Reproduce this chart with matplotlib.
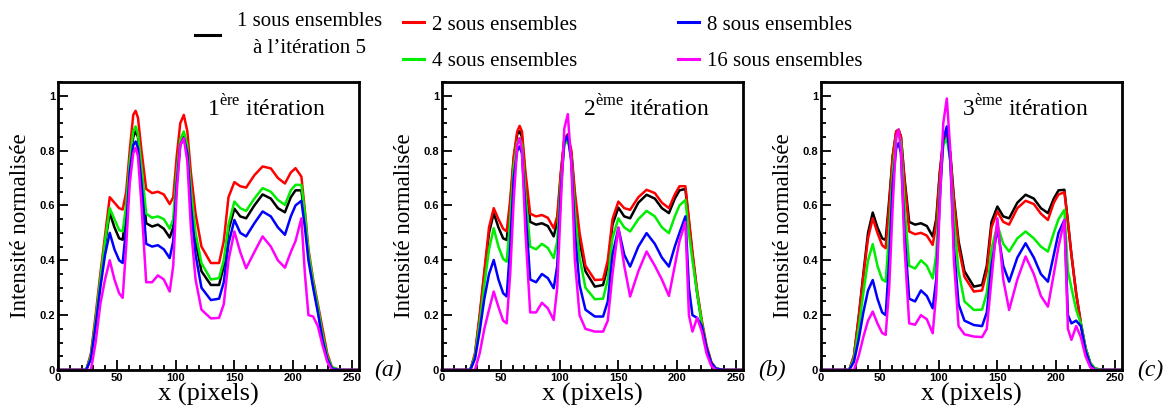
import matplotlib
matplotlib.use('Agg')
import matplotlib.pyplot as plt
from matplotlib.ticker import MultipleLocator

plt.rcParams['font.family'] = ['Liberation Serif', 'DejaVu Serif']
plt.rcParams['mathtext.fontset'] = 'custom'
plt.rcParams['mathtext.rm'] = 'Liberation Serif'

# pixel positions where the profiles were read (same for every curve)
x_px = [0, 24, 28, 32, 36, 40, 44, 48, 52, 55,
        58, 61, 64, 66, 68, 71, 75, 80, 85, 90,
        95, 98, 101, 104, 107, 110, 113, 117, 122, 130,
        137, 141, 145, 150, 155, 160, 167, 174, 181, 187,
        193, 198, 202, 207, 210, 213, 217, 221, 225, 229,
        233, 240, 256]

# 1st iteration
it1_s1 = [0, 0, 0.05, 0.18, 0.32, 0.46, 0.573, 0.52, 0.48, 0.475,
          0.58, 0.75, 0.85, 0.87, 0.85, 0.72, 0.535, 0.523, 0.53, 0.515,
          0.483, 0.52, 0.70, 0.83, 0.85, 0.80, 0.64, 0.47, 0.36, 0.31,
          0.31, 0.38, 0.51, 0.588, 0.56, 0.553, 0.60, 0.64, 0.625, 0.59,
          0.575, 0.63, 0.655, 0.655, 0.55, 0.42, 0.31, 0.22, 0.12, 0.04,
          0.005, 0, 0]
it1_s2 = [0, 0, 0.06, 0.20, 0.35, 0.49, 0.63, 0.61, 0.59, 0.585,
          0.65, 0.80, 0.93, 0.945, 0.92, 0.80, 0.66, 0.645, 0.65, 0.64,
          0.605, 0.63, 0.78, 0.90, 0.93, 0.87, 0.72, 0.57, 0.45, 0.39,
          0.39, 0.47, 0.63, 0.685, 0.67, 0.665, 0.71, 0.742, 0.735, 0.70,
          0.68, 0.72, 0.736, 0.705, 0.58, 0.44, 0.33, 0.24, 0.15, 0.06,
          0.01, 0, 0]
it1_s4 = [0, 0, 0.05, 0.18, 0.33, 0.47, 0.59, 0.55, 0.51, 0.505,
          0.60, 0.76, 0.87, 0.888, 0.86, 0.74, 0.57, 0.555, 0.56, 0.55,
          0.515, 0.55, 0.72, 0.84, 0.87, 0.82, 0.66, 0.50, 0.39, 0.33,
          0.335, 0.40, 0.53, 0.614, 0.59, 0.58, 0.625, 0.663, 0.65, 0.62,
          0.602, 0.655, 0.675, 0.675, 0.57, 0.43, 0.32, 0.23, 0.13, 0.05,
          0.01, 0, 0]
it1_s8 = [0, 0, 0.04, 0.16, 0.30, 0.42, 0.50, 0.44, 0.40, 0.39,
          0.52, 0.72, 0.82, 0.833, 0.81, 0.68, 0.46, 0.45, 0.455, 0.44,
          0.408, 0.47, 0.68, 0.82, 0.845, 0.79, 0.60, 0.42, 0.30, 0.255,
          0.26, 0.32, 0.46, 0.547, 0.50, 0.487, 0.535, 0.578, 0.56, 0.52,
          0.493, 0.56, 0.60, 0.617, 0.52, 0.40, 0.30, 0.21, 0.11, 0.04,
          0.005, 0, 0]
it1_s16 = [0, 0, 0, 0.10, 0.24, 0.33, 0.40, 0.33, 0.28, 0.263,
           0.45, 0.68, 0.79, 0.81, 0.78, 0.60, 0.32, 0.32, 0.345, 0.33,
           0.286, 0.38, 0.65, 0.82, 0.845, 0.76, 0.52, 0.33, 0.22, 0.188,
           0.19, 0.24, 0.40, 0.505, 0.43, 0.371, 0.43, 0.487, 0.45, 0.40,
           0.373, 0.43, 0.47, 0.553, 0.35, 0.20, 0.195, 0.16, 0.09, 0.03,
           0, 0, 0]

# 2nd iteration
it2_s1 = [0, 0, 0.05, 0.19, 0.35, 0.50, 0.572, 0.52, 0.48, 0.474,
          0.60, 0.77, 0.86, 0.87, 0.85, 0.70, 0.54, 0.53, 0.535, 0.525,
          0.487, 0.54, 0.71, 0.84, 0.858, 0.79, 0.63, 0.47, 0.36, 0.304,
          0.31, 0.38, 0.53, 0.592, 0.56, 0.553, 0.61, 0.639, 0.625, 0.59,
          0.572, 0.625, 0.655, 0.66, 0.54, 0.42, 0.28, 0.17, 0.08, 0.025,
          0.005, 0, 0]
it2_s2 = [0, 0, 0.06, 0.20, 0.36, 0.52, 0.59, 0.55, 0.515, 0.505,
          0.62, 0.78, 0.87, 0.89, 0.87, 0.72, 0.57, 0.56, 0.565, 0.555,
          0.517, 0.56, 0.72, 0.84, 0.86, 0.80, 0.65, 0.50, 0.38, 0.328,
          0.33, 0.40, 0.55, 0.614, 0.59, 0.584, 0.63, 0.657, 0.645, 0.61,
          0.59, 0.64, 0.67, 0.67, 0.55, 0.43, 0.29, 0.18, 0.09, 0.03,
          0.005, 0, 0]
it2_s4 = [0, 0, 0.05, 0.17, 0.31, 0.44, 0.517, 0.45, 0.405, 0.395,
          0.55, 0.74, 0.83, 0.845, 0.82, 0.64, 0.45, 0.44, 0.46, 0.445,
          0.408, 0.47, 0.68, 0.82, 0.84, 0.77, 0.58, 0.41, 0.30, 0.258,
          0.26, 0.33, 0.48, 0.553, 0.52, 0.505, 0.55, 0.58, 0.56, 0.52,
          0.499, 0.56, 0.60, 0.62, 0.50, 0.40, 0.28, 0.17, 0.08, 0.025,
          0.005, 0, 0]
it2_s8 = [0, 0, 0.04, 0.14, 0.26, 0.35, 0.401, 0.33, 0.28, 0.268,
          0.45, 0.70, 0.80, 0.815, 0.79, 0.58, 0.33, 0.32, 0.35, 0.335,
          0.298, 0.38, 0.65, 0.83, 0.855, 0.76, 0.50, 0.31, 0.22, 0.195,
          0.195, 0.25, 0.42, 0.517, 0.42, 0.377, 0.45, 0.499, 0.46, 0.41,
          0.377, 0.45, 0.50, 0.56, 0.30, 0.20, 0.19, 0.16, 0.08, 0.025,
          0.005, 0, 0]
it2_s16 = [0, 0, 0, 0.06, 0.15, 0.22, 0.286, 0.23, 0.18, 0.17,
           0.35, 0.62, 0.82, 0.845, 0.80, 0.50, 0.21, 0.21, 0.245, 0.225,
           0.182, 0.30, 0.60, 0.88, 0.933, 0.75, 0.40, 0.20, 0.15, 0.14,
           0.14, 0.18, 0.35, 0.52, 0.38, 0.268, 0.36, 0.432, 0.38, 0.33,
           0.27, 0.38, 0.47, 0.54, 0.20, 0.14, 0.19, 0.14, 0.06, 0.015,
           0, 0, 0]

# 3rd iteration
it3_s1 = [0, 0, 0.05, 0.19, 0.35, 0.50, 0.574, 0.52, 0.48, 0.474,
          0.62, 0.78, 0.87, 0.876, 0.85, 0.70, 0.54, 0.53, 0.535, 0.525,
          0.487, 0.55, 0.72, 0.84, 0.858, 0.79, 0.63, 0.47, 0.36, 0.304,
          0.31, 0.38, 0.54, 0.596, 0.56, 0.553, 0.61, 0.639, 0.625, 0.59,
          0.572, 0.625, 0.655, 0.657, 0.54, 0.42, 0.28, 0.17, 0.08, 0.025,
          0.005, 0, 0]
it3_s2 = [0, 0, 0.05, 0.19, 0.34, 0.48, 0.553, 0.50, 0.455, 0.444,
          0.60, 0.78, 0.87, 0.876, 0.85, 0.69, 0.505, 0.495, 0.50, 0.49,
          0.456, 0.53, 0.71, 0.84, 0.858, 0.78, 0.62, 0.45, 0.34, 0.286,
          0.29, 0.36, 0.52, 0.578, 0.54, 0.53, 0.59, 0.617, 0.605, 0.57,
          0.547, 0.61, 0.64, 0.648, 0.54, 0.42, 0.28, 0.17, 0.08, 0.025,
          0.005, 0, 0]
it3_s4 = [0, 0, 0.04, 0.15, 0.28, 0.40, 0.459, 0.38, 0.33, 0.322,
          0.50, 0.72, 0.85, 0.858, 0.83, 0.60, 0.38, 0.37, 0.40, 0.38,
          0.334, 0.42, 0.66, 0.82, 0.845, 0.76, 0.55, 0.36, 0.25, 0.219,
          0.22, 0.28, 0.44, 0.53, 0.46, 0.432, 0.48, 0.505, 0.48, 0.45,
          0.432, 0.50, 0.55, 0.584, 0.36, 0.30, 0.22, 0.17, 0.08, 0.025,
          0.005, 0, 0]
it3_s8 = [0, 0, 0.03, 0.11, 0.21, 0.29, 0.328, 0.26, 0.21, 0.20,
          0.40, 0.68, 0.81, 0.827, 0.79, 0.50, 0.26, 0.25, 0.29, 0.27,
          0.225, 0.33, 0.62, 0.84, 0.888, 0.76, 0.45, 0.24, 0.18, 0.164,
          0.16, 0.21, 0.38, 0.517, 0.38, 0.322, 0.41, 0.462, 0.41, 0.35,
          0.322, 0.42, 0.50, 0.547, 0.20, 0.17, 0.18, 0.16, 0.07, 0.02,
          0, 0, 0]
it3_s16 = [0, 0, 0, 0.05, 0.12, 0.18, 0.213, 0.17, 0.135, 0.128,
           0.30, 0.60, 0.85, 0.876, 0.80, 0.45, 0.17, 0.165, 0.20, 0.185,
           0.134, 0.28, 0.60, 0.90, 0.99, 0.80, 0.40, 0.16, 0.13, 0.122,
           0.12, 0.15, 0.33, 0.553, 0.33, 0.219, 0.33, 0.414, 0.35, 0.27,
           0.231, 0.35, 0.45, 0.547, 0.15, 0.11, 0.16, 0.12, 0.05, 0.01,
           0, 0, 0]

labels = ['1 sous ensembles\nà l\u2019itération 5', '2 sous ensembles',
          '4 sous ensembles', '8 sous ensembles', '16 sous ensembles']
colors = ['black', '#ff0000', '#00ee00', '#0000ff', '#ff00ff']
panel_titles = [r'1$^{\mathrm{ère}}$ itération', r'2$^{\mathrm{ème}}$ itération',
                r'3$^{\mathrm{ème}}$ itération']
panel_letters = ['(a)', '(b)', '(c)']
x_ticks = [0, 50, 100, 150, 200, 250]
y_ticks = [0, 0.2, 0.4, 0.6, 0.8, 1]
y_ticklabels = ['0', '0.2', '0.4', '0.6', '0.8', '1']

panels = [
    [it1_s1, it1_s2, it1_s4, it1_s8, it1_s16],
    [it2_s1, it2_s2, it2_s4, it2_s8, it2_s16],
    [it3_s1, it3_s2, it3_s4, it3_s8, it3_s16],
]

W, H = 1163, 408
fig = plt.figure(figsize=(W / 100, H / 100), dpi=100)

lefts = [58, 442, 821]
handles = []
for i, series in enumerate(panels):
    ax = fig.add_axes([lefts[i] / W, 38 / H, 301 / W, 288 / H])
    lines = []
    for vals, c in zip(series, colors):
        ln, = ax.plot(x_px, vals, color=c, lw=1.8, clip_on=False)
        lines.append(ln)
    if i == 0:
        handles = lines

    ax.set_xlim(0, 256)
    ax.set_ylim(0, 1.05)
    ax.set_xticks(x_ticks)
    ax.set_xticklabels([str(t) for t in x_ticks])
    ax.set_yticks(y_ticks)
    ax.set_yticklabels(y_ticklabels)
    ax.xaxis.set_minor_locator(MultipleLocator(10))
    ax.yaxis.set_minor_locator(MultipleLocator(0.05))
    ax.tick_params(which='both', direction='in', top=False, right=False, width=1.3)
    ax.tick_params(which='major', length=7, labelsize=8, pad=2)
    ax.tick_params(which='minor', length=3.5)
    for lab in ax.get_xticklabels() + ax.get_yticklabels():
        lab.set_fontfamily('Liberation Sans')
        lab.set_fontweight('bold')
    for sp in ax.spines.values():
        sp.set_linewidth(2)

    ax.set_xlabel('x (pixels)', fontsize=19, labelpad=0)
    ax.set_ylabel('Intensité normalisée', fontsize=16.5, labelpad=6)
    ax.text(0.89, 0.955, panel_titles[i], transform=ax.transAxes,
            ha='right', va='top', fontsize=17)
    ax.text(1.05, 0.0, panel_letters[i], transform=ax.transAxes,
            ha='left', va='center', fontsize=17, style='italic')

# legend in three groups above the panels
leg1 = fig.legend(handles[:1], labels[:1], loc='upper left',
                  bbox_to_anchor=(195 / W, 1 - 12 / H), frameon=False,
                  fontsize=15, handlelength=1.2, handletextpad=0.8,
                  borderpad=0, borderaxespad=0)
for t in leg1.get_texts():
    t.set_multialignment('center')
    t.set_linespacing(1.55)
leg2 = fig.legend(handles[1:3], labels[1:3], loc='upper left',
                  bbox_to_anchor=(403 / W, 1 - 15 / H), frameon=False,
                  fontsize=15, handlelength=1.0, handletextpad=0.4,
                  labelspacing=0.8, borderpad=0, borderaxespad=0)
leg3 = fig.legend(handles[3:], labels[3:], loc='upper left',
                  bbox_to_anchor=(678 / W, 1 - 15 / H), frameon=False,
                  fontsize=15, handlelength=1.0, handletextpad=0.4,
                  labelspacing=0.8, borderpad=0, borderaxespad=0)
for leg in (leg1, leg2, leg3):
    for ln in leg.get_lines():
        ln.set_linewidth(2.2)

fig.savefig('out.png', dpi=100)
